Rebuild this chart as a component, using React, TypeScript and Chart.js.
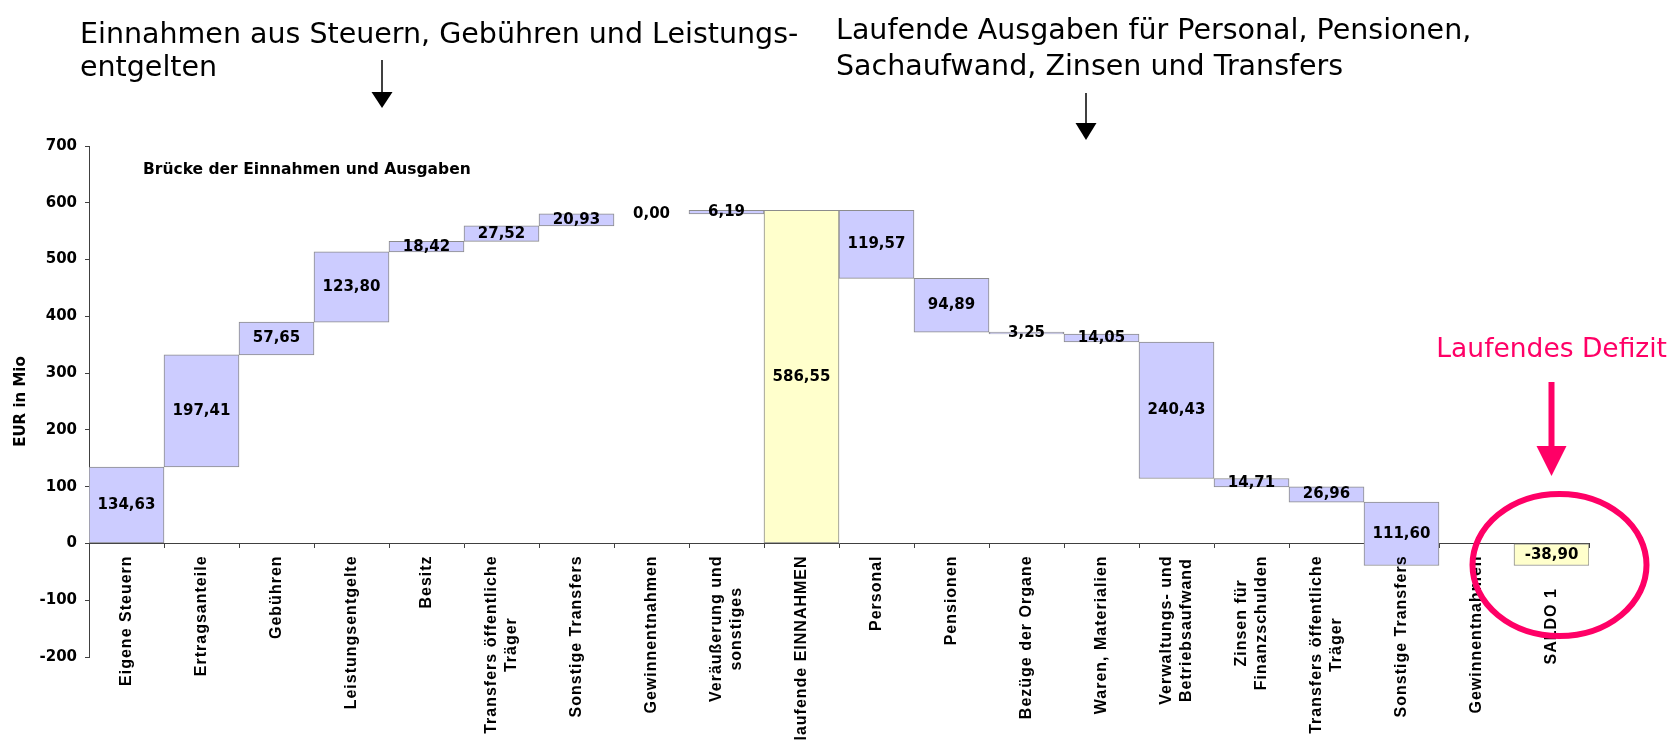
import React, { useEffect, useRef } from 'react';
import { Chart, registerables } from 'chart.js';

Chart.register(...registerables);

// ---- data ----
const categories: (string | string[])[] = [
  'Eigene Steuern',
  'Ertragsanteile',
  'Gebühren',
  'Leistungsentgelte',
  'Besitz',
  ['Transfers öffentliche', 'Träger'],
  'Sonstige Transfers',
  'Gewinnentnahmen',
  ['Veräußerung und', 'sonstiges'],
  'laufende EINNAHMEN',
  'Personal',
  'Pensionen',
  'Bezüge der Organe',
  'Waren, Materialien',
  ['Verwaltungs- und', 'Betriebsaufwand'],
  ['Zinsen für', 'Finanzschulden'],
  ['Transfers öffentliche', 'Träger'],
  'Sonstige Transfers',
  'Gewinnentnahmen',
  'SALDO 1      ',
];

// amounts in EUR Mio (income: added, expense: subtracted, total / saldo: from zero)
const values: (number | null)[] = [
  134.63, 197.41, 57.65, 123.8, 18.42, 27.52, 20.93, 0.0, 6.19, 586.55,
  119.57, 94.89, 3.25, 14.05, 240.43, 14.71, 26.96, 111.6, null, -38.9,
];

const kinds: string[] = [
  'in', 'in', 'in', 'in', 'in', 'in', 'in', 'in', 'in', 'total',
  'out', 'out', 'out', 'out', 'out', 'out', 'out', 'out', 'out', 'saldo',
];

const yMin = -200;
const yMax = 700;
const yStep = 100;

const chartTitle = 'Brücke der Einnahmen und Ausgaben';
const yTitle = 'EUR in Mio';
const noteLeft = ['Einnahmen aus Steuern, Gebühren und Leistungs-', 'entgelten'];
const noteRight = ['Laufende Ausgaben für Personal, Pensionen,', 'Sachaufwand, Zinsen und Transfers'];
const noteDeficit = 'Laufendes Defizit';

const BLUE = '#CCCCFF';
const YELLOW = '#FFFFCC';
const PINK = '#FF0066';

function buildRanges(): ([number, number] | null)[] {
  let run = 0;
  return values.map((v, i) => {
    if (v === null) return null;
    const k = kinds[i];
    if (k === 'in') {
      const r: [number, number] = [run, run + v];
      run += v;
      return r;
    }
    if (k === 'total') {
      run = v;
      return [0, v];
    }
    if (k === 'out') {
      const r: [number, number] = [run, run - v];
      run -= v;
      return r;
    }
    return [0, v];
  });
}

const fmt = (v: number) => v.toFixed(2).replace('.', ',');

function arrow(ctx: CanvasRenderingContext2D, x: number, y1: number, y2: number, headLen: number, headW: number, lineW: number, color: string) {
  ctx.save();
  ctx.strokeStyle = color;
  ctx.fillStyle = color;
  ctx.lineWidth = lineW;
  ctx.beginPath();
  ctx.moveTo(x, y1);
  ctx.lineTo(x, y2 - headLen + 1);
  ctx.stroke();
  ctx.beginPath();
  ctx.moveTo(x - headW / 2, y2 - headLen);
  ctx.lineTo(x + headW / 2, y2 - headLen);
  ctx.lineTo(x, y2);
  ctx.closePath();
  ctx.fill();
  ctx.restore();
}

const overlayPlugin = {
  id: 'overlay',
  afterDatasetsDraw(chart: any) {
    const ctx: CanvasRenderingContext2D = chart.ctx;
    const meta = chart.getDatasetMeta(0);
    ctx.save();
    ctx.fillStyle = '#000';
    ctx.font = 'bold 15px "DejaVu Sans"';
    ctx.textAlign = 'center';
    ctx.textBaseline = 'middle';
    meta.data.forEach((el: any, i: number) => {
      const v = values[i];
      if (v === null) return;
      const p = el.getProps(['x', 'y', 'base'], true);
      ctx.fillText(fmt(v), p.x, (p.y + p.base) / 2);
    });
    ctx.restore();
  },
  afterDraw(chart: any) {
    const ctx: CanvasRenderingContext2D = chart.ctx;
    const xs = chart.scales.x;
    const ys = chart.scales.y;
    const area = chart.chartArea;

    // chart title inside plot
    ctx.save();
    ctx.fillStyle = '#000';
    ctx.font = 'bold 15.5px "DejaVu Sans"';
    ctx.textAlign = 'left';
    ctx.textBaseline = 'middle';
    ctx.fillText(chartTitle, area.left + 54, area.top + 24);
    ctx.restore();

    // category labels (rotated, hanging from zero line)
    ctx.save();
    ctx.fillStyle = '#000';
    ctx.font = 'bold 16px "Liberation Sans"';
    (ctx as any).letterSpacing = '1px';
    const y0 = ys.getPixelForValue(0) + 12;
    const lh = 20;
    categories.forEach((lab, i) => {
      const lines = Array.isArray(lab) ? lab : [lab];
      const w = Math.max(...lines.map((l) => ctx.measureText(l).width));
      const cx = xs.getPixelForValue(i);
      ctx.save();
      ctx.translate(cx, y0 + w / 2);
      ctx.rotate(-Math.PI / 2);
      ctx.textAlign = 'center';
      ctx.textBaseline = 'middle';
      lines.forEach((l, k) => {
        ctx.fillText(l, 0, (k - (lines.length - 1) / 2) * lh);
      });
      ctx.restore();
    });
    ctx.restore();

    // annotation texts
    ctx.save();
    ctx.fillStyle = '#000';
    ctx.textAlign = 'left';
    ctx.textBaseline = 'alphabetic';
    ctx.font = '28.5px "DejaVu Sans"';
    ctx.fillText(noteLeft[0], 80, 43);
    ctx.fillText(noteLeft[1], 80, 76);
    ctx.fillText(noteRight[0], 836, 39);
    ctx.fillText(noteRight[1], 836, 75);
    ctx.restore();

    arrow(ctx, 382, 60, 108, 16, 21, 1.5, '#000');
    arrow(ctx, 1086, 93, 140, 17, 21, 1.5, '#000');

    // deficit marker
    const sx = xs.getPixelForValue(values.length - 1);
    ctx.save();
    ctx.fillStyle = PINK;
    ctx.font = '26.5px "DejaVu Sans"';
    ctx.textAlign = 'right';
    ctx.textBaseline = 'alphabetic';
    ctx.fillText(noteDeficit, 1667, 357);
    ctx.restore();
    arrow(ctx, sx, 382, 476, 30, 30, 6, PINK);
    ctx.save();
    ctx.strokeStyle = PINK;
    ctx.lineWidth = 6;
    ctx.beginPath();
    ctx.ellipse(sx + 8, 565, 87, 71, 0, 0, Math.PI * 2);
    ctx.stroke();
    ctx.restore();
  },
};

export default function App() {
  const ref = useRef<HTMLCanvasElement | null>(null);

  useEffect(() => {
    if (!ref.current) return;
    const ranges = buildRanges();
    const colors = kinds.map((k) => (k === 'total' || k === 'saldo' ? YELLOW : BLUE));
    const chart = new Chart(ref.current, {
      type: 'bar',
      data: {
        labels: categories.map((c) => (Array.isArray(c) ? c.join(' ') : c.trim())),
        datasets: [
          {
            data: ranges as any,
            backgroundColor: colors,
            borderColor: '#8c8c8c',
            borderWidth: 1,
            borderSkipped: false,
            barPercentage: 1,
            categoryPercentage: 1,
          },
        ],
      },
      options: {
        animation: false,
        responsive: true,
        maintainAspectRatio: false,
        layout: { padding: { top: 146, right: 83, bottom: 86, left: 0 } },
        plugins: {
          legend: { display: false },
          tooltip: { enabled: false },
          title: { display: false },
        },
        scales: {
          x: {
            position: { y: 0 } as any,
            offset: true,
            z: 1,
            ticks: { display: false },
            grid: { drawOnChartArea: false, drawTicks: true, tickLength: 4, color: '#404040', offset: true },
            border: { display: true, color: '#404040', width: 1 },
          },
          y: {
            min: yMin,
            max: yMax,
            ticks: {
              stepSize: yStep,
              color: '#000',
              padding: 8,
              font: { family: 'DejaVu Sans', weight: 'bold', size: 15 },
            },
            grid: { drawOnChartArea: false, drawTicks: true, tickLength: 4, color: '#404040' },
            border: { display: true, color: '#404040', width: 1 },
            title: {
              display: true,
              text: yTitle,
              color: '#000',
              font: { family: 'DejaVu Sans', weight: 'bold', size: 15 },
              padding: { top: 12, bottom: 0 },
            },
            afterFit: (s: any) => {
              s.width = 89;
            },
          },
        },
      },
      plugins: [overlayPlugin],
    });
    return () => chart.destroy();
  }, []);

  return (
    <div style={{ position: 'fixed', left: 0, top: 0, width: 1672, height: 743, background: '#fff' }}>
      <canvas ref={ref} />
    </div>
  );
}
